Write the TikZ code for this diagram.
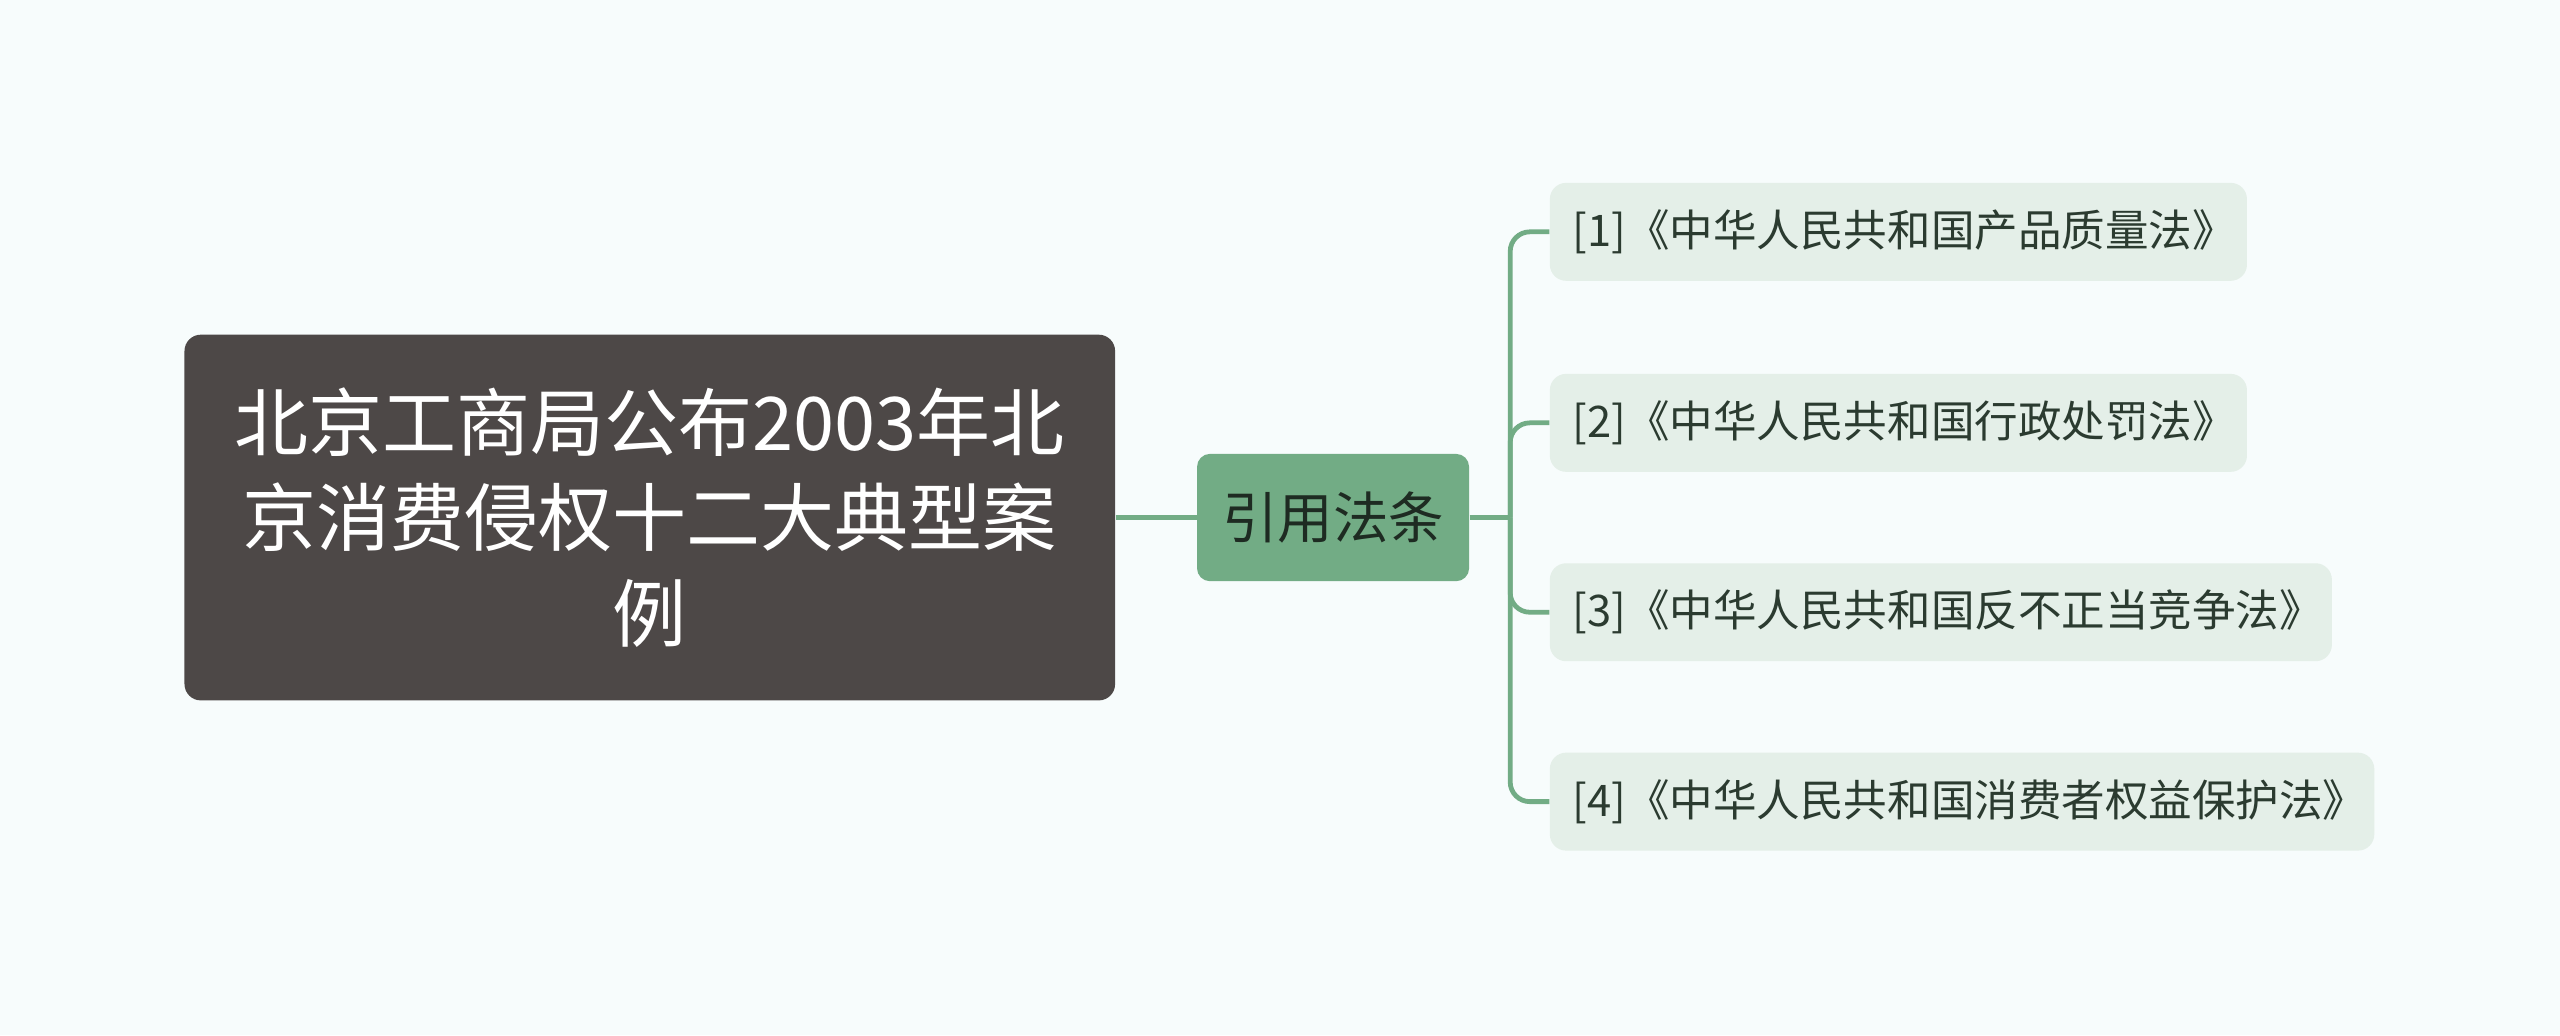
\documentclass[tikz,border=0pt]{standalone}
\usepackage{fontspec}
\setmainfont{Noto Sans CJK SC}
\begin{document}
\begin{tikzpicture}[x=0.75pt,y=-0.75pt,
  rootbox/.style={fill=rootc,rounded corners=7.5pt,text=white,font=\fontsize{34}{44}\selectfont,align=center,minimum width=427.5pt,minimum height=168pt,inner sep=0pt},
  midbox/.style={fill=linec,rounded corners=6pt,text=midt,font=\fontsize{25.5}{30}\selectfont,minimum width=125pt,minimum height=58.5pt,inner sep=0pt},
  leafbox/.style={fill=leafc,rounded corners=7.5pt,minimum height=45pt,inner sep=0pt,anchor=west},
  leaftext/.style={anchor=west,text=leaft,font=\fontsize{20}{24}\selectfont,inner sep=0pt},
  conn/.style={draw=linec,line width=2.2pt,rounded corners=9pt}]
\definecolor{bg}{HTML}{F7FCFC}
\definecolor{rootc}{HTML}{4D4847}
\definecolor{linec}{HTML}{72AC85}
\definecolor{leafc}{HTML}{E4EFE8}
\definecolor{leaft}{HTML}{2B3B30}
\definecolor{midt}{HTML}{1E2B22}
\fill[bg] (0,0) rectangle (1568,634);
\useasboundingbox (0,0) rectangle (1568,634);
\node[rootbox] (root) at (398,317) {北京工商局公布2003年北\\京消费侵权十二大典型案\\例};
\node[midbox] (mid) at (816.5,317) {引用法条};
\node[leafbox,minimum width=320.25pt] (l1) at (949,142) {};
\node[leaftext] (t1) at (963,142) {[1]《中华人民共和国产品质量法》};
\node[leafbox,minimum width=320.25pt] (l2) at (949,259) {};
\node[leaftext] (t2) at (963,259) {[2]《中华人民共和国行政处罚法》};
\node[leafbox,minimum width=359.25pt] (l3) at (949,375) {};
\node[leaftext] (t3) at (963,375) {[3]《中华人民共和国反不正当竞争法》};
\node[leafbox,minimum width=378.75pt] (l4) at (949,491) {};
\node[leaftext] (t4) at (963,491) {[4]《中华人民共和国消费者权益保护法》};
\draw[conn] (root.east) -- (mid.west);
\coordinate (j) at (925,317);
\draw[conn] (mid.east) -- (j);
\foreach \l in {l1,l2,l3,l4} \draw[conn] (j) |- (\l.west);
\end{tikzpicture}
\end{document}
